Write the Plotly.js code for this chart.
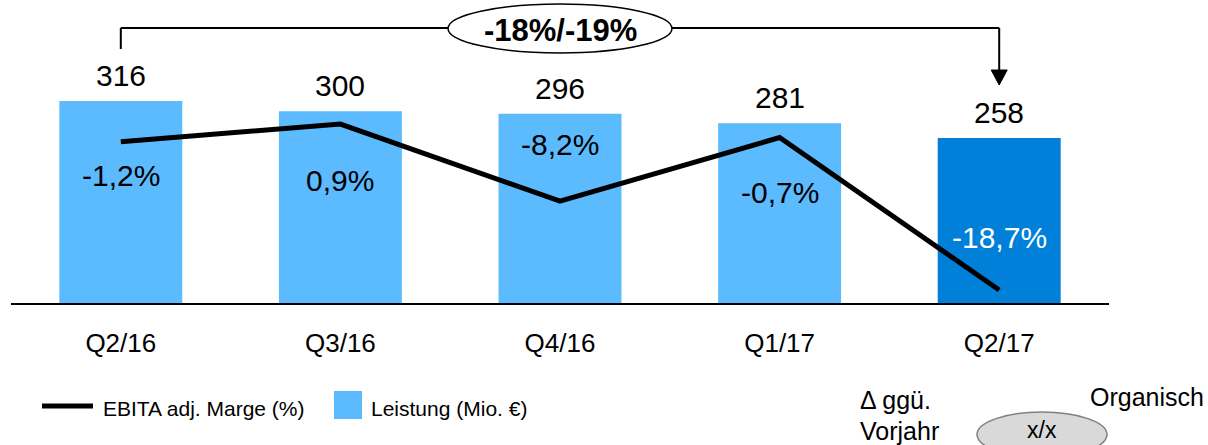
<!DOCTYPE html>
<html>
<head>
<meta charset="utf-8">
<script src="https://cdn.plot.ly/plotly-3.0.1.min.js"></script>
<style>html,body{margin:0;padding:0;background:#fff;}#chart{width:1208px;height:445px;}</style>
</head>
<body>
<div id="chart"></div>
<script>
const categories = ['Q2/16', 'Q3/16', 'Q4/16', 'Q1/17', 'Q2/17'];
const leistung = [316, 300, 296, 281, 258];
const marge = [-1.2, 0.9, -8.2, -0.7, -18.7];
const margeLabels = ['-1,2%', '0,9%', '-8,2%', '-0,7%', '-18,7%'];
const changeLabel = '-18%/-19%';
const legendNames = ['EBITA adj. Marge (%)', 'Leistung (Mio. €)'];

const barColors = ['#5CBAFF', '#5CBAFF', '#5CBAFF', '#5CBAFF', '#0080D8'];
const margeLabelColors = ['#000', '#000', '#000', '#000', '#fff'];
const margeLabelShift = [-34, -56, 57, -55, 53];

const W = 1208, H = 445;
const M = {l: 11, r: 99, t: 30, b: 142};
const PW = W - M.l - M.r, PH = H - M.t - M.b;
const px = X => (X - M.l) / PW;
const py = Y => (M.t + PH - Y) / PH;

const FONT = 'Liberation Sans, Arial, sans-serif';

const traces = [
  {
    type: 'bar', x: categories, y: leistung, name: legendNames[1],
    marker: {color: barColors, line: {width: 0}},
    hoverinfo: 'skip', showlegend: false
  },
  {
    type: 'scatter', mode: 'lines', x: categories, y: marge, yaxis: 'y2', name: legendNames[0],
    line: {color: '#000', width: 5}, cliponaxis: false, hoverinfo: 'skip', showlegend: false
  }
];

const annotations = [];
categories.forEach((c, i) => {
  annotations.push({
    x: c, y: leistung[i], xref: 'x', yref: 'y', text: String(leistung[i]),
    showarrow: false, yanchor: 'bottom', yshift: 7,
    font: {family: FONT, size: 30, color: '#000'}
  });
  annotations.push({
    x: c, y: marge[i], xref: 'x', yref: 'y2', text: margeLabels[i],
    showarrow: false, yanchor: 'middle', yshift: margeLabelShift[i],
    font: {family: FONT, size: 30, color: margeLabelColors[i]}
  });
});
// top change label
annotations.push({
  x: px(560), y: py(30), xref: 'paper', yref: 'paper', text: '<b>' + changeLabel + '</b>',
  showarrow: false, xanchor: 'center', yanchor: 'middle',
  font: {family: FONT, size: 31, color: '#000'}
});
// legend texts
annotations.push({
  x: px(101), y: py(408), xref: 'paper', yref: 'paper', text: legendNames[0],
  showarrow: false, xanchor: 'left', yanchor: 'middle',
  font: {family: FONT, size: 21, color: '#000'}
});
annotations.push({
  x: px(369), y: py(408), xref: 'paper', yref: 'paper', text: legendNames[1],
  showarrow: false, xanchor: 'left', yanchor: 'middle',
  font: {family: FONT, size: 21, color: '#000'}
});
// key at bottom right
annotations.push({
  x: px(858), y: py(400), xref: 'paper', yref: 'paper', text: 'Δ ggü.',
  showarrow: false, xanchor: 'left', yanchor: 'middle',
  font: {family: FONT, size: 25, color: '#000'}
});
annotations.push({
  x: px(858), y: py(431), xref: 'paper', yref: 'paper', text: 'Vorjahr',
  showarrow: false, xanchor: 'left', yanchor: 'middle',
  font: {family: FONT, size: 25, color: '#000'}
});
annotations.push({
  x: px(1206), y: py(397), xref: 'paper', yref: 'paper', text: 'Organisch',
  showarrow: false, xanchor: 'right', yanchor: 'middle',
  font: {family: FONT, size: 25, color: '#000'}
});
annotations.push({
  x: px(1042), y: py(430), xref: 'paper', yref: 'paper', text: 'x/x',
  showarrow: false, xanchor: 'center', yanchor: 'middle',
  font: {family: FONT, size: 23, color: '#000'}
});

const first = categories[0], last = categories[categories.length - 1];
const lastX = M.l + (categories.length - 0.5) * PW / categories.length;
const shapes = [
  {type: 'line', xref: 'x', yref: 'paper', x0: first, x1: first, y0: py(49), y1: py(28), line: {color: '#000', width: 2}},
  {type: 'line', xref: 'x', yref: 'paper', x0: first, x1: last, y0: py(28), y1: py(28), line: {color: '#000', width: 2}},
  {type: 'line', xref: 'x', yref: 'paper', x0: last, x1: last, y0: py(28), y1: py(72), line: {color: '#000', width: 2}},
  {type: 'path', xref: 'paper', yref: 'paper',
   path: 'M' + px(lastX - 8) + ',' + py(70) + ' L' + px(lastX + 8) + ',' + py(70) + ' L' + px(lastX) + ',' + py(85) + ' Z',
   fillcolor: '#000', line: {color: '#000', width: 1}},
  {type: 'circle', xref: 'paper', yref: 'paper', x0: px(448), x1: px(672), y0: py(4), y1: py(53),
   fillcolor: '#fff', line: {color: '#000', width: 1.5}},
  // legend symbols
  {type: 'line', xref: 'paper', yref: 'paper', x0: px(42), x1: px(93), y0: py(406), y1: py(406), line: {color: '#000', width: 5}},
  {type: 'rect', xref: 'paper', yref: 'paper', x0: px(334), x1: px(362), y0: py(391), y1: py(419), fillcolor: barColors[0], line: {width: 0}},
  // key ellipse
  {type: 'circle', xref: 'paper', yref: 'paper', x0: px(977), x1: px(1107), y0: py(412), y1: py(457),
   fillcolor: '#D9D9D9', line: {color: '#808080', width: 1.5}}
];

const layout = {
  width: W, height: H,
  margin: M,
  paper_bgcolor: '#fff', plot_bgcolor: '#fff',
  showlegend: false,
  bargap: 0.44,
  xaxis: {
    type: 'category', range: [-0.5, categories.length - 0.5],
    showline: true, linecolor: '#000', linewidth: 2,
    ticks: '', showgrid: false, zeroline: false, fixedrange: true,
    ticklabelstandoff: 16,
    tickfont: {family: FONT, size: 26, color: '#000'}
  },
  yaxis: {range: [0, PH / (202 / 316)], visible: false, fixedrange: true},
  yaxis2: {overlaying: 'y', range: [-20.23, 12.0], visible: false, fixedrange: true},
  annotations: annotations,
  shapes: shapes
};

Plotly.newPlot('chart', traces, layout, {staticPlot: true, displayModeBar: false});
</script>
</body>
</html>
